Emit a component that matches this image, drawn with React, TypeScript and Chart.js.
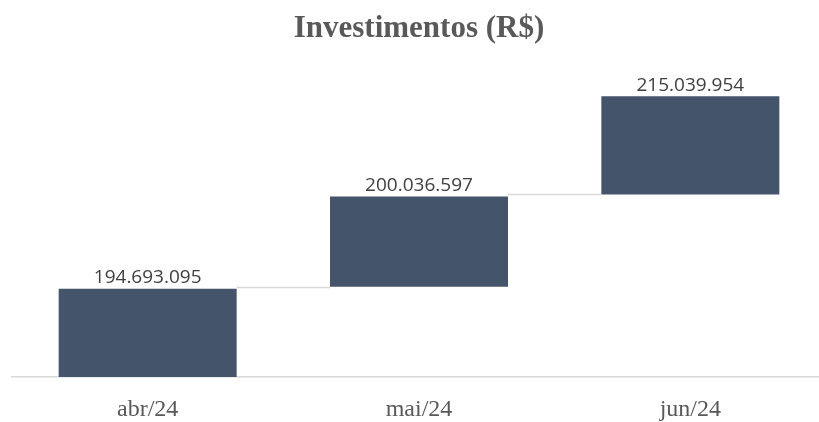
import React, { useEffect, useRef } from "react";
import { Chart, registerables } from "chart.js";

Chart.register(...registerables);

// Categories
const meses: string[] = ["abr/24", "mai/24", "jun/24"];
// Invested amounts (R$) shown as data labels
const investimentos: number[] = [194693095, 200036597, 215039954];
// Floating-bar extents on the chart's own (visual) scale
const barraInicio: number[] = [0, 90, 182];
const barraFim: number[] = [88, 180, 280];

const COR_BARRA = "#44546A";
const COR_CONECTOR = "#D9D9D9";

function formatBR(n: number): string {
  return String(Math.round(n)).replace(/\B(?=(\d{3})+(?!\d))/g, ".");
}

const waterfallPlugin = {
  id: "waterfallExtras",
  afterDatasetsDraw(chart: any) {
    const { ctx } = chart;
    const meta = chart.getDatasetMeta(0);
    const yScale = chart.scales.y;
    ctx.save();
    // connectors
    ctx.strokeStyle = COR_CONECTOR;
    ctx.lineWidth = 1.5;
    for (let i = 0; i < meta.data.length - 1; i++) {
      const a = meta.data[i];
      const b = meta.data[i + 1];
      const y = Math.round(yScale.getPixelForValue(barraInicio[i + 1])) + 0.5;
      ctx.beginPath();
      ctx.moveTo(a.x + a.width / 2, y);
      ctx.lineTo(b.x - b.width / 2, y);
      ctx.stroke();
    }
    // labels
    ctx.fillStyle = "#404040";
    ctx.font = "19px 'Open Sans', 'Liberation Sans', sans-serif";
    ctx.textAlign = "center";
    ctx.textBaseline = "alphabetic";
    meta.data.forEach((bar: any, i: number) => {
      const top = Math.min(bar.y, bar.base);
      ctx.fillText(formatBR(investimentos[i]), bar.x, top - 5.5);
    });
    ctx.restore();
  },
};

export default function App() {
  const ref = useRef<HTMLCanvasElement | null>(null);

  useEffect(() => {
    document.body.style.margin = "0";
    const canvas = ref.current;
    if (!canvas) return;
    const chart = new Chart(canvas, {
      type: "bar",
      data: {
        labels: meses,
        datasets: [
          {
            label: "Investimentos",
            data: meses.map((_, i) => [barraInicio[i], barraFim[i]]) as any,
            backgroundColor: COR_BARRA,
            borderWidth: 0,
            borderSkipped: false,
            categoryPercentage: 1,
            barPercentage: 0.656,
          },
        ],
      },
      options: {
        responsive: false,
        animation: false,
        layout: { padding: { left: 12, right: 0, top: 0, bottom: 0 } },
        plugins: {
          legend: { display: false },
          tooltip: { enabled: false },
          title: {
            display: true,
            text: "Investimentos (R$)",
            color: "#595959",
            font: { family: "'Liberation Serif', 'Times New Roman', serif", size: 31, weight: "bold", lineHeight: 1.2 },
            padding: { top: 10.5, bottom: 28.4 },
          },
        },
        scales: {
          x: {
            grid: { display: false, drawTicks: false },
            border: { display: true, color: COR_CONECTOR, width: 1.5 },
            ticks: {
              color: "#595959",
              padding: 21,
              maxRotation: 0,
              font: { family: "'Liberation Serif', 'Times New Roman', serif", size: 24, lineHeight: 1 },
            },
            afterFit: (scale: any) => {
              scale.height = 45;
            },
          },
          y: {
            display: false,
            min: 0,
            max: 300,
          },
        },
      },
      plugins: [waterfallPlugin],
    });
    return () => chart.destroy();
  }, []);

  return (
    <div style={{ width: 819, height: 422, overflow: "hidden", position: "relative" }}>
      <canvas ref={ref} width={826} height={422} style={{ display: "block" }} />
    </div>
  );
}
